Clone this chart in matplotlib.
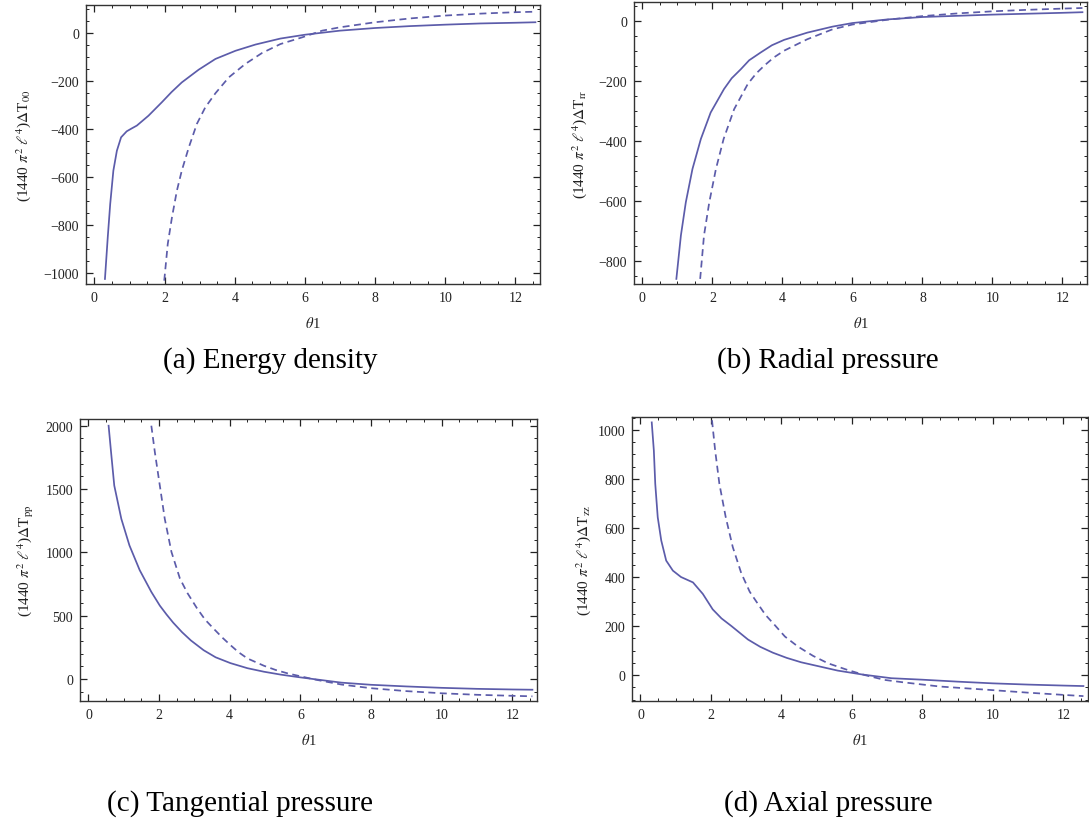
import matplotlib.pyplot as plt
from matplotlib.ticker import MultipleLocator

plt.rcParams['font.family'] = ['Liberation Serif', 'DejaVu Serif']
plt.rcParams['mathtext.fontset'] = 'stix'

line_color = '#5c5caa'
text_color = '#222222'

# (a) Energy density
a_sol_x = [0.30, 0.38, 0.45, 0.54, 0.64, 0.76, 0.92, 1.05, 1.21, 1.54, 1.92, 2.2, 2.49, 2.97, 3.45, 4.02, 4.59, 5.3, 6.0, 7.0, 8.0, 9.0, 10.0, 11.0, 12.0, 12.57]
a_sol_y = [-1025, -851, -712, -573, -490, -434, -409, -398, -385, -344, -288, -245, -205, -152, -107, -73, -47, -22, -6, 11, 22, 30, 36, 41, 44, 46]
a_dash_x = [1.99, 2.09, 2.21, 2.35, 2.49, 2.69, 2.92, 3.16, 3.45, 3.83, 4.3, 4.78, 5.3, 5.92, 6.49, 7.0, 8.0, 9.0, 10.0, 11.0, 12.0, 12.57]
a_dash_y = [-1032, -879, -768, -657, -573, -476, -378, -309, -250, -184, -128, -82, -45, -17, 11, 25, 46, 62, 74, 82, 88, 90]

# (b) Radial pressure
b_sol_x = [0.97, 1.1, 1.24, 1.43, 1.67, 1.95, 2.33, 2.55, 2.81, 3.05, 3.38, 3.7, 4.05, 4.71, 5.43, 6.0, 7.0, 8.0, 9.0, 10.0, 11.0, 12.0, 12.57]
b_sol_y = [-858, -713, -603, -492, -392, -304, -226, -190, -160, -130, -104, -80, -62, -38, -18, -6, 6, 14, 18, 22, 25, 28, 30]
b_dash_x = [1.65, 1.76, 1.91, 2.1, 2.32, 2.62, 3.01, 3.25, 3.48, 3.75, 4.05, 4.71, 5.43, 6.0, 7.0, 8.0, 9.0, 10.0, 11.0, 12.0, 12.57]
b_dash_y = [-858, -713, -603, -492, -392, -293, -209, -174, -148, -121, -98, -60, -27, -11, 5, 17, 26, 33, 38, 42, 44]

# (c) Tangential pressure
c_sol_x = [0.57, 0.64, 0.73, 0.93, 1.16, 1.45, 1.78, 2.02, 2.21, 2.4, 2.65, 2.9, 3.26, 3.6, 4.02, 4.5, 4.97, 5.45, 5.93, 7.16, 8.0, 9.0, 10.0, 11.0, 12.0, 12.57]
c_sol_y = [2000, 1790, 1528, 1265, 1055, 860, 688, 580, 510, 445, 370, 305, 228, 172, 126, 86, 58, 35, 16, -28, -45, -58, -69, -77, -82, -84]
c_dash_x = [1.78, 1.88, 2.02, 2.16, 2.35, 2.59, 2.8, 3.07, 3.3, 3.54, 3.8, 4.02, 4.25, 4.5, 4.97, 5.3, 5.64, 6.4, 7.16, 8.0, 9.0, 10.0, 11.0, 12.0, 12.57]
c_dash_y = [2000, 1790, 1528, 1265, 1003, 793, 680, 560, 470, 399, 325, 268, 212, 163, 105, 72, 45, -3, -43, -72, -95, -112, -124, -132, -136]

# (d) Axial pressure
d_sol_x = [0.32, 0.38, 0.42, 0.49, 0.59, 0.73, 0.92, 1.15, 1.49, 1.77, 2.05, 2.3, 2.58, 3.05, 3.4, 3.76, 4.15, 4.56, 5.6, 6.3, 7.12, 8.0, 9.0, 10.0, 11.0, 12.0, 12.57]
d_sol_y = [1031, 916, 780, 644, 549, 467, 426, 400, 378, 331, 268, 231, 200, 145, 115, 91, 70, 52, 18, 2, -13, -19, -27, -34, -39, -43, -45]
d_dash_x = [2.03, 2.12, 2.24, 2.42, 2.62, 2.86, 3.1, 3.32, 3.55, 3.81, 4.1, 4.47, 4.9, 5.32, 5.85, 6.36, 6.93, 7.47, 8.5, 9.93, 11.0, 12.0, 12.57]
d_dash_y = [1040, 916, 780, 644, 522, 416, 340, 293, 245, 204, 157, 116, 78, 48, 22, 0, -20, -30, -47, -61, -72, -81, -86]

W, H = 1089, 828


def rect(left, right, top, bottom):
    return [left / W, 1 - bottom / H, (right - left) / W, (bottom - top) / H]


panels = [
    dict(rect=rect(86, 540, 6, 285), ylim=(-1046, 118), sol=(a_sol_x, a_sol_y), dash=(a_dash_x, a_dash_y),
         ymajor=200, yminor=50, sub='00', lx=-0.117, caption='(a) Energy density', cap=(270, 361)),
    dict(rect=rect(634, 1087, 3, 285), ylim=(-875, 64), sol=(b_sol_x, b_sol_y), dash=(b_dash_x, b_dash_y),
         ymajor=200, yminor=50, sub='rr', lx=-0.10, caption='(b) Radial pressure', cap=(828, 361)),
    dict(rect=rect(80, 537, 420, 702), ylim=(-173, 2053), sol=(c_sol_x, c_sol_y), dash=(c_dash_x, c_dash_y),
         ymajor=500, yminor=100, sub='pp', lx=-0.096, caption='(c) Tangential pressure', cap=(240, 804)),
    dict(rect=rect(632, 1088, 418, 702), ylim=(-106, 1053), sol=(d_sol_x, d_sol_y), dash=(d_dash_x, d_dash_y),
         ymajor=200, yminor=50, sub='zz', lx=-0.086, caption='(d) Axial pressure', cap=(828, 804)),
]

fig = plt.figure(figsize=(W / 100, H / 100), dpi=100)

for p in panels:
    ax = fig.add_axes(p['rect'])
    ax.plot(p['sol'][0], p['sol'][1], color=line_color, lw=1.25)
    ax.plot(p['dash'][0], p['dash'][1], color=line_color, lw=1.25, ls=(0, (4, 2.6)))
    ax.set_xlim(-0.24, 12.7)
    ax.set_ylim(*p['ylim'])
    ax.xaxis.set_major_locator(MultipleLocator(2))
    ax.xaxis.set_minor_locator(MultipleLocator(0.5))
    ax.yaxis.set_major_locator(MultipleLocator(p['ymajor']))
    ax.yaxis.set_minor_locator(MultipleLocator(p['yminor']))
    ax.tick_params(which='both', direction='in', top=True, right=True, colors=text_color,
                   labelsize=10, pad=5)
    ax.tick_params(which='major', length=5, width=0.9)
    ax.tick_params(which='minor', length=2.5, width=0.7)
    for s in ax.spines.values():
        s.set_color('#333333')
        s.set_linewidth(1.0)
    ax.set_xlabel(r'$\theta$1', fontsize=10.5, color=text_color, labelpad=8)
    ax.set_ylabel(r'(1440 $\pi^2$ $\ell^4$)$\Delta$T$_{\rm ' + p['sub'] + '}$', fontsize=11, color=text_color)
    ax.yaxis.set_label_coords(p['lx'], 0.5)
    fig.text(p['cap'][0] / W, 1 - p['cap'][1] / H, p['caption'], fontsize=21,
             ha='center', va='center')

fig.savefig('out.png', dpi=100)
